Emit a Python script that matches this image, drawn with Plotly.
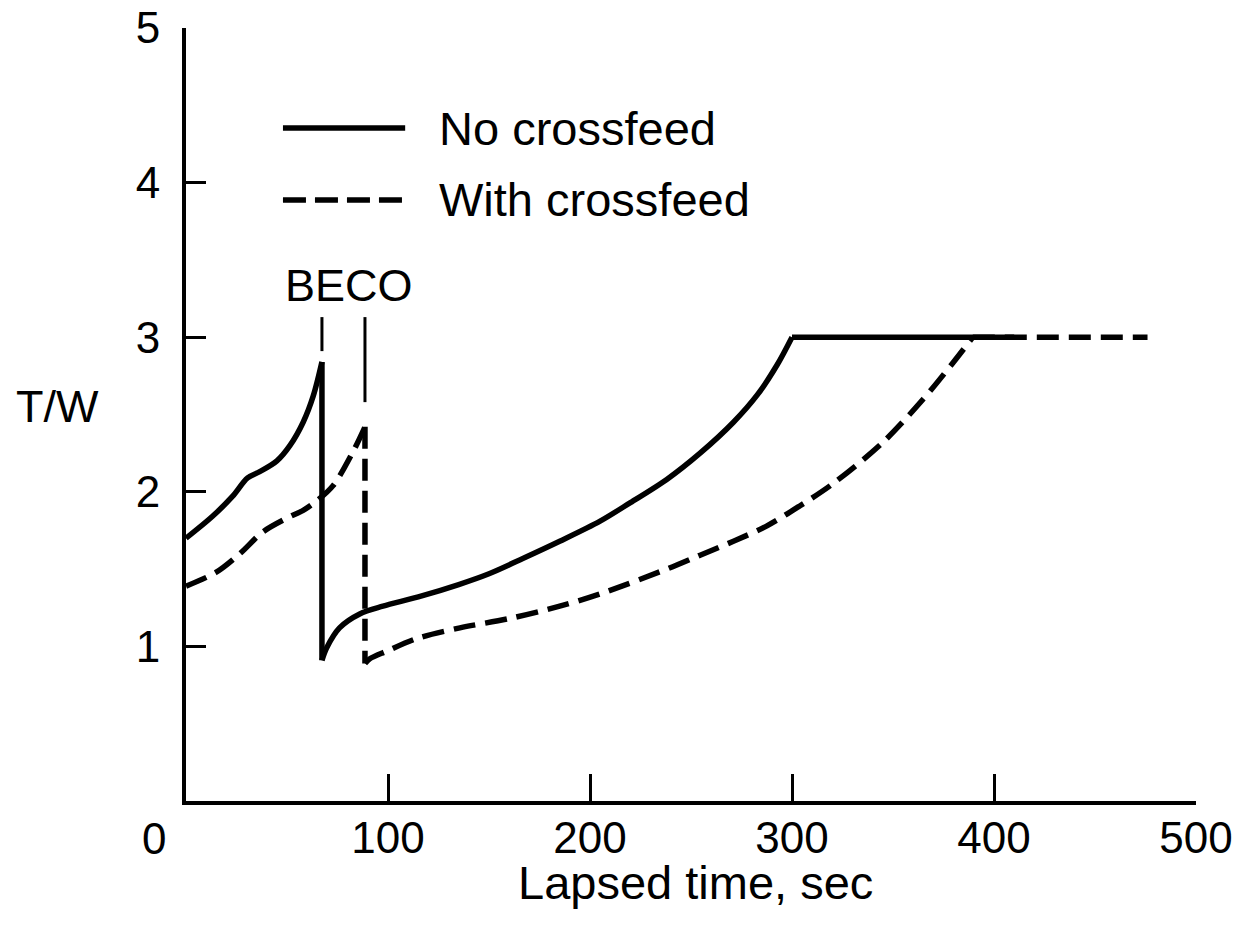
import plotly.graph_objects as go

# ---- data ----
no_crossfeed_t = [0, 13, 23, 30.5, 36.5, 45, 51.5, 58, 63, 67.3, 67.3, 69.6, 76, 86, 97.5,
                  115, 135, 150, 167, 185, 205, 220, 238, 254.5, 271, 283, 292.6, 300, 410]
no_crossfeed_tw = [1.70, 1.84, 1.97, 2.09, 2.13, 2.20, 2.30, 2.45, 2.62, 2.84, 0.91, 0.99, 1.12, 1.21, 1.26,
                   1.32, 1.40, 1.47, 1.57, 1.68, 1.81, 1.93, 2.08, 2.25, 2.45, 2.63, 2.82, 3.0, 3.0]

with_crossfeed_t = [0, 15, 26.7, 38, 50, 58, 64.6, 72.8, 82.7, 88.6, 88.6, 91, 99.5, 114, 135.6,
                    160, 185, 205, 238, 254.5, 271, 287.6, 304, 320, 345, 365, 380, 389.5, 476]
with_crossfeed_tw = [1.39, 1.48, 1.60, 1.74, 1.83, 1.88, 1.94, 2.04, 2.26, 2.42, 0.89, 0.92, 0.97, 1.05, 1.12,
                     1.18, 1.26, 1.34, 1.50, 1.59, 1.68, 1.78, 1.91, 2.05, 2.32, 2.60, 2.84, 3.0, 3.0]

beco_t = [67.3, 88.6]
beco_top = [3.13, 3.13]
beco_bottom = [2.91, 2.58]

x_ticks = [100, 200, 300, 400, 500]
y_ticks = [1, 2, 3, 4, 5]
series_names = ["No crossfeed", "With crossfeed"]

FONT = "Liberation Sans, Arial, Helvetica, sans-serif"
BLACK = "#000000"

fig = go.Figure()


def add_series(t, tw, name, dash):
    """Draw a series piecewise: smooth curve pieces, straight BECO drop, straight plateau."""
    drop = next(i for i in range(len(t) - 1) if t[i] == t[i + 1])
    plateau = next(i for i in range(len(tw)) if tw[i] >= 3.0)
    pieces = [(0, drop, "spline"), (drop, drop + 1, "linear"),
              (drop + 1, plateau, "spline"), (plateau, len(t) - 1, "linear")]
    for a, b, shape in pieces:
        fig.add_trace(go.Scatter(x=t[a:b + 1], y=tw[a:b + 1], mode="lines", name=name,
                                 line=dict(color=BLACK, width=5.5, dash=dash, shape=shape,
                                           smoothing=0.9 if shape == "spline" else None),
                                 showlegend=False))


add_series(no_crossfeed_t, no_crossfeed_tw, series_names[0], "solid")
add_series(with_crossfeed_t, with_crossfeed_tw, series_names[1], "22px,10px")

for bt, top, bot in zip(beco_t, beco_top, beco_bottom):
    fig.add_trace(go.Scatter(x=[bt, bt], y=[top, bot], mode="lines",
                             line=dict(color=BLACK, width=3), showlegend=False, hoverinfo="skip"))

# legend drawn manually (long line samples)
leg_x0, leg_x1, leg_tx = 0.096, 0.217, 0.2485
leg_y = [0.8706, 0.7775]
fig.add_shape(type="line", xref="paper", yref="paper", x0=leg_x0, x1=leg_x1, y0=leg_y[0], y1=leg_y[0],
              line=dict(color=BLACK, width=5.5))
fig.add_shape(type="line", xref="paper", yref="paper", x0=leg_x0, x1=leg_x1, y0=leg_y[1], y1=leg_y[1],
              line=dict(color=BLACK, width=5.5, dash="23px,9px"))
for name, ly in zip(series_names, leg_y):
    fig.add_annotation(text=name, xref="paper", yref="paper", x=leg_tx, y=ly,
                       xanchor="left", yanchor="middle", showarrow=False,
                       font=dict(family=FONT, size=47, color=BLACK))

fig.add_annotation(text="BECO", xref="x", yref="y", x=80.7, y=3.335, showarrow=False,
                   xanchor="center", yanchor="middle", font=dict(family=FONT, size=45, color=BLACK))
fig.add_annotation(text="T/W", xref="paper", yref="y", x=-0.127, y=2.55, showarrow=False,
                   xanchor="center", yanchor="middle", font=dict(family=FONT, size=45, color=BLACK))
fig.add_annotation(text="Lapsed time, sec", xref="x", yref="paper", x=252, y=-0.105, showarrow=False,
                   xanchor="center", yanchor="middle", font=dict(family=FONT, size=47, color=BLACK))
fig.add_annotation(text="0", xref="x", yref="y", x=0, y=0, xshift=-32, yshift=-37, showarrow=False,
                   xanchor="center", yanchor="middle", font=dict(family=FONT, size=44, color=BLACK))

fig.update_layout(
    width=1247, height=937,
    margin=dict(l=186, r=51, t=28, b=136, autoexpand=False),
    paper_bgcolor="white", plot_bgcolor="white",
    font=dict(family=FONT, color=BLACK),
    showlegend=False,
)
fig.update_xaxes(range=[0, 500], tickvals=x_ticks, ticktext=[str(v) for v in x_ticks],
                 showgrid=False, zeroline=False, showline=True, linewidth=4, linecolor=BLACK,
                 ticks="inside", ticklen=27, tickwidth=3, tickcolor=BLACK, automargin=False,
                 tickfont=dict(family=FONT, size=44, color=BLACK), ticklabelstandoff=-5)
fig.update_yaxes(range=[0, 5], tickvals=y_ticks, ticktext=[str(v) for v in y_ticks],
                 showgrid=False, zeroline=False, showline=True, linewidth=4, linecolor=BLACK,
                 ticks="inside", ticklen=20, tickwidth=3, tickcolor=BLACK, automargin=False,
                 tickfont=dict(family=FONT, size=44, color=BLACK), ticklabelstandoff=13)

fig.write_html("out.html")
